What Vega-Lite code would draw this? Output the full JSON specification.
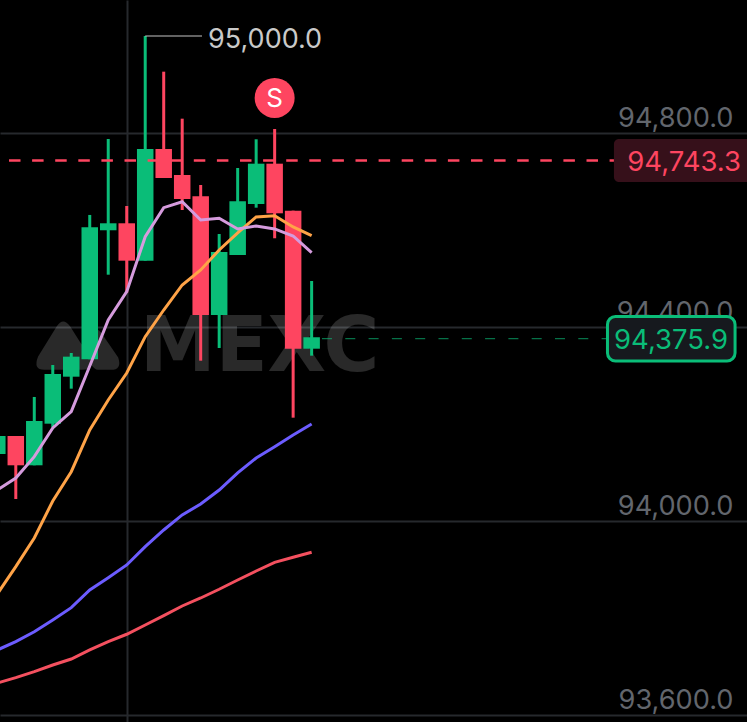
{"$schema":"https://vega.github.io/schema/vega-lite/v6.json","width":747,"height":722,"autosize":{"type":"none"},"padding":0,"background":"#000000","config":{"view":{"stroke":null},"font":"Inter"},
"resolve":{"scale":{"color":"independent"}},
"datasets":{"candles":[
{"i":0,"top":94175.2,"bottom":94138.1,"h":94175.2,"l":94138.1,"dir":"up"},
{"i":1,"top":94175.2,"bottom":94114.8,"h":94175.2,"l":94045.3,"dir":"down"},
{"i":2,"top":94206.2,"bottom":94114.8,"h":94255.7,"l":94114.8,"dir":"up"},
{"i":3,"top":94303.1,"bottom":94200.6,"h":94321.6,"l":94193.8,"dir":"up"},
{"i":4,"top":94338.8,"bottom":94297.5,"h":94346.4,"l":94272.8,"dir":"up"},
{"i":5,"top":94605.6,"bottom":94333.4,"h":94631,"l":94333.4,"dir":"up"},
{"i":6,"top":94613.8,"bottom":94599.4,"h":94787.6,"l":94507.8,"dir":"up"},
{"i":7,"top":94613.8,"bottom":94536.7,"h":94649.5,"l":94470.7,"dir":"down"},
{"i":8,"top":94767,"bottom":94536.7,"h":95000,"l":94536.7,"dir":"up"},
{"i":9,"top":94767,"bottom":94707.2,"h":94926.4,"l":94707.2,"dir":"down"},
{"i":10,"top":94713.4,"bottom":94663.9,"h":94829.5,"l":94641.2,"dir":"down"},
{"i":11,"top":94669.5,"bottom":94424.7,"h":94692.8,"l":94330.5,"dir":"down"},
{"i":12,"top":94554.6,"bottom":94424.7,"h":94591.7,"l":94356.7,"dir":"up"},
{"i":13,"top":94659.2,"bottom":94548.4,"h":94727.8,"l":94548.4,"dir":"up"},
{"i":14,"top":94736.7,"bottom":94653.6,"h":94787,"l":94646,"dir":"up"},
{"i":15,"top":94736.7,"bottom":94634.4,"h":94808.2,"l":94582.9,"dir":"down"},
{"i":16,"top":94639.8,"bottom":94355.2,"h":94639.8,"l":94213,"dir":"down"},
{"i":17,"top":94378.8,"bottom":94355.2,"h":94494.8,"l":94340.8,"dir":"up"}],
"ma":[
{"i":0,"p":93666,"s":"a"},{"i":1,"p":93676.9,"s":"a"},{"i":2,"p":93689.3,"s":"a"},{"i":3,"p":93703.1,"s":"a"},{"i":4,"p":93715.4,"s":"a"},{"i":5,"p":93734,"s":"a"},{"i":6,"p":93751.1,"s":"a"},{"i":7,"p":93766.4,"s":"a"},{"i":8,"p":93785.5,"s":"a"},{"i":9,"p":93804.7,"s":"a"},{"i":10,"p":93824.7,"s":"a"},{"i":11,"p":93841.2,"s":"a"},{"i":12,"p":93859.2,"s":"a"},{"i":13,"p":93878.3,"s":"a"},{"i":14,"p":93896.9,"s":"a"},{"i":15,"p":93914.8,"s":"a"},{"i":16,"p":93925.1,"s":"a"},{"i":17,"p":93935.4,"s":"a"},
{"i":0,"p":93734,"s":"b"},{"i":1,"p":93751.1,"s":"b"},{"i":2,"p":93771.7,"s":"b"},{"i":3,"p":93795.9,"s":"b"},{"i":4,"p":93821.2,"s":"b"},{"i":5,"p":93857.7,"s":"b"},{"i":6,"p":93883.1,"s":"b"},{"i":7,"p":93909.3,"s":"b"},{"i":8,"p":93947,"s":"b"},{"i":9,"p":93981.4,"s":"b"},{"i":10,"p":94012.4,"s":"b"},{"i":11,"p":94035,"s":"b"},{"i":12,"p":94063.9,"s":"b"},{"i":13,"p":94099,"s":"b"},{"i":14,"p":94129.9,"s":"b"},{"i":15,"p":94153.2,"s":"b"},{"i":16,"p":94177.3,"s":"b"},{"i":17,"p":94200,"s":"b"},
{"i":0,"p":93849.5,"s":"c"},{"i":1,"p":93905.8,"s":"c"},{"i":2,"p":93964.9,"s":"c"},{"i":3,"p":94041.2,"s":"c"},{"i":4,"p":94101.6,"s":"c"},{"i":5,"p":94187.6,"s":"c"},{"i":6,"p":94249.5,"s":"c"},{"i":7,"p":94305.1,"s":"c"},{"i":8,"p":94380,"s":"c"},{"i":9,"p":94435,"s":"c"},{"i":10,"p":94486.6,"s":"c"},{"i":11,"p":94517.5,"s":"c"},{"i":12,"p":94558.8,"s":"c"},{"i":13,"p":94593.8,"s":"c"},{"i":14,"p":94626.8,"s":"c"},{"i":15,"p":94629.5,"s":"c"},{"i":16,"p":94606.2,"s":"c"},{"i":17,"p":94588.2,"s":"c"},
{"i":0,"p":94063.9,"s":"d"},{"i":1,"p":94088.6,"s":"d"},{"i":2,"p":94132.6,"s":"d"},{"i":3,"p":94191.7,"s":"d"},{"i":4,"p":94225.4,"s":"d"},{"i":5,"p":94319.6,"s":"d"},{"i":6,"p":94414.4,"s":"d"},{"i":7,"p":94472.8,"s":"d"},{"i":8,"p":94586.2,"s":"d"},{"i":9,"p":94646,"s":"d"},{"i":10,"p":94658.3,"s":"d"},{"i":11,"p":94620.6,"s":"d"},{"i":12,"p":94624.1,"s":"d"},{"i":13,"p":94602.1,"s":"d"},{"i":14,"p":94608.2,"s":"d"},{"i":15,"p":94602.1,"s":"d"},{"i":16,"p":94587.6,"s":"d"},{"i":17,"p":94553.2,"s":"d"}]},
"encoding":{
"x":{"field":"i","type":"quantitative","title":null,"scale":{"domain":[0.146,40.546],"nice":false,"zero":false,"padding":0},"axis":{"values":[7],"grid":true,"gridColor":"#26292d","gridWidth":2,"labels":false,"ticks":false,"domain":false,"title":null}},
"y":{"field":"p","type":"quantitative","title":null,"scale":{"domain":[93585.5,95074.2],"nice":false,"zero":false,"padding":0},"axis":{"orient":"right","values":[93600,94000,94400,94800],"format":",.1f","grid":true,"gridColor":"#26292d","gridWidth":2,"ticks":false,"domain":false,"title":null,"labelColor":"#62666d","labelFontSize":27.2,"labelFont":"Inter","labelFontWeight":400,"labelAlign":"right","labelBaseline":"middle","labelPadding":-14,"labelOffset":-14,"labelBound":false,"labelFlush":false,"labelOverlap":false}}},
"layer":[
{"data":{"values":[{"i":4.34,"p":94362.9}]},"mark":{"type":"point","filled":true,"fill":"#ffffff","fillOpacity":0.16,"stroke":null,"size":6889,"shape":"M -0.95 0.28 L -0.5 -0.45 Q -0.35 -0.68 -0.18 -0.45 L 0.28 0.28 Q 0.45 0.6 0.1 0.6 L -0.8 0.6 Q -1.08 0.6 -0.95 0.28 Z M 0.3 -0.25 Q 0.45 -0.5 0.6 -0.25 L 0.98 0.3 Q 1.08 0.6 0.8 0.6 L 0.5 0.6 Q 0.4 0.6 0.3 0.42 L 0.05 0.05 Z"}},
{"data":{"values":[{"i":7.72,"p":94309,"t":"MEXC"}]},"mark":{"type":"text","font":"DejaVu Sans","fontWeight":"bold","fontSize":76,"align":"left","baseline":"alphabetic","fill":"#ffffff","fillOpacity":0.16},"encoding":{"text":{"field":"t"}}},
{"data":{"name":"candles"},"mark":{"type":"rule","strokeWidth":3},"encoding":{"y":{"field":"h","type":"quantitative"},"y2":{"field":"l"},"color":{"field":"dir","type":"nominal","legend":null,"scale":{"domain":["up","down"],"range":["#0abd78","#fe4560"]}}}},
{"data":{"name":"candles"},"mark":{"type":"bar","size":16.5},"encoding":{"y":{"field":"top","type":"quantitative"},"y2":{"field":"bottom"},"color":{"field":"dir","type":"nominal","legend":null,"scale":{"domain":["up","down"],"range":["#0abd78","#fe4560"]}}}},
{"data":{"values":[{"i":0.633,"i2":33.35,"p":94743.3}]},"mark":{"type":"rule","color":"#fe4560","strokeWidth":2.5,"strokeDash":[11.5,11.6]},"encoding":{"x2":{"field":"i2"}}},
{"data":{"values":[{"i":17.56,"i2":32.92,"p":94375.9}]},"mark":{"type":"rule","color":"#0abd78","strokeOpacity":0.6,"strokeWidth":1.2,"strokeDash":[10,13.3]},"encoding":{"x2":{"field":"i2"}}},
{"data":{"name":"ma"},"mark":{"type":"line","strokeWidth":3,"interpolate":"linear"},"encoding":{"color":{"field":"s","type":"nominal","legend":null,"scale":{"domain":["a","b","c","d"],"range":["#f4505f","#6c5cff","#ffa347","#d59bdd"]}}}},
{"data":{"values":[{"i":8,"i2":11.07,"p":95000}]},"mark":{"type":"rule","color":"#c4c4c4","strokeWidth":1.2},"encoding":{"x2":{"field":"i2"}}},
{"data":{"values":[{"i":11.4,"p":95000,"t":"95,000.0"}]},"mark":{"type":"text","fontSize":27,"font":"Inter","align":"left","baseline":"middle","dy":4,"fill":"#c9c9c9"},"encoding":{"text":{"field":"t"}}},
{"data":{"values":[{"i":15,"p":94872.2}]},"mark":{"type":"point","shape":"circle","filled":true,"fill":"#fe4560","stroke":null,"opacity":1,"size":1600}},
{"data":{"values":[{"i":15,"p":94872.2,"t":"S"}]},"mark":{"type":"text","fontSize":26,"font":"Inter","align":"center","baseline":"middle","dy":1,"fill":"#ffffff"},"encoding":{"text":{"field":"t"}}},
{"data":{"values":[{"i":33.35,"i2":41,"p":94787.6,"p2":94698.9}]},"mark":{"type":"rect","fill":"#36101a","cornerRadius":5},"encoding":{"x2":{"field":"i2"},"y2":{"field":"p2"}}},
{"data":{"values":[{"i":40.22,"p":94743.3,"t":"94,743.3"}]},"mark":{"type":"text","fontSize":27.5,"font":"Inter","align":"right","baseline":"middle","dy":3,"fill":"#fe4560"},"encoding":{"text":{"field":"t"}}},
{"data":{"values":[{"i":33.0,"i2":39.9,"p":94421.6,"p2":94329.9}]},"mark":{"type":"rect","fill":"#16191e","stroke":"#0abd78","strokeWidth":3,"cornerRadius":8},"encoding":{"x2":{"field":"i2"},"y2":{"field":"p2"}}},
{"data":{"values":[{"i":36.44,"p":94375.9,"t":"94,375.9"}]},"mark":{"type":"text","fontSize":27.5,"font":"Inter","align":"center","baseline":"middle","dy":2,"fill":"#0abd78"},"encoding":{"text":{"field":"t"}}}
]}
